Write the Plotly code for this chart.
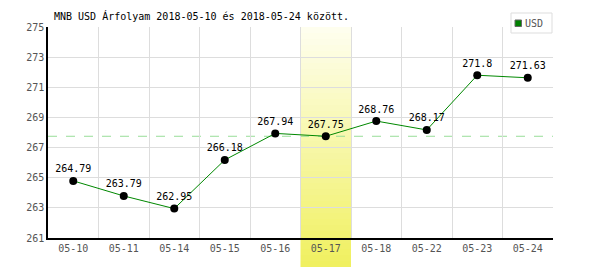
import plotly.graph_objects as go

dates = ["05-10", "05-11", "05-14", "05-15", "05-16", "05-17", "05-18", "05-22", "05-23", "05-24"]
usd = [264.79, 263.79, 262.95, 266.18, 267.94, 267.75, 268.76, 268.17, 271.8, 271.63]
labels = ["264.79", "263.79", "262.95", "266.18", "267.94", "267.75", "268.76", "268.17", "271.8", "271.63"]
series_name = "USD"
highlight_index = 5
reference_value = usd[highlight_index]
y_ticks = [261, 263, 265, 267, 269, 271, 273, 275]

FONT = "DejaVu Sans Mono"
L, R, T, B = 48, 553, 27, 238
PW, PH = R - L, B - T


def px(x):
    return (x - L) / PW


def py(y):
    return (B - y) / PH


fig = go.Figure()

fig.add_trace(go.Scatter(
    x=dates, y=usd, mode="lines+markers+text",
    text=labels, textposition="top center",
    textfont=dict(family=FONT, size=10, color="#000000"),
    line=dict(color="#008800", width=1),
    marker=dict(color="#000000", size=8),
    showlegend=False, cliponaxis=False,
))

# gradient highlight band
n = 40
top, bottom = 1.0, py(267)
c0 = (254, 254, 238)
c1 = (240, 240, 96)
for i in range(n):
    t = i / (n - 1)
    col = tuple(round(c0[k] + (c1[k] - c0[k]) * t) for k in range(3))
    y1 = top - (top - bottom) * i / n
    y0 = top - (top - bottom) * (i + 1) / n
    fig.add_shape(type="rect", xref="x", yref="paper",
                  x0=highlight_index - 0.5, x1=highlight_index + 0.5,
                  y0=y0, y1=y1, fillcolor="rgb(%d,%d,%d)" % col,
                  line=dict(width=0), layer="below")

fig.add_shape(type="line", xref="paper", yref="y", x0=0, x1=1,
              y0=reference_value, y1=reference_value,
              line=dict(color="#99dd99", width=1, dash="dash"), layer="below")

# legend box
fig.add_shape(type="rect", xref="paper", yref="paper",
              x0=px(511), x1=px(552), y0=py(33), y1=py(13),
              fillcolor="#ffffff", line=dict(color="#dddddd", width=1))
fig.add_shape(type="rect", xref="paper", yref="paper",
              x0=px(515), x1=px(521.5), y0=py(26.5), y1=py(20),
              fillcolor="#008000", line=dict(color="#666666", width=1))
fig.add_annotation(text=series_name, xref="paper", yref="paper",
                   x=px(523), y=py(23.5), xanchor="left", yanchor="middle",
                   showarrow=False,
                   font=dict(family=FONT, size=10, color="#555555"))

fig.update_layout(
    width=600, height=270,
    margin=dict(l=L, r=600 - R, t=T, b=270 - B),
    paper_bgcolor="#ffffff", plot_bgcolor="#ffffff",
    showlegend=False,
    title=dict(text="MNB USD Árfolyam 2018-05-10 és 2018-05-24 között.",
               x=54/600, xanchor="left", y=1-16/270, yanchor="middle",
               font=dict(family=FONT, size=10, color="#000000")),
    xaxis=dict(type="category", range=[-0.5, len(dates) - 0.5],
               tickson="boundaries", showgrid=True,
               gridcolor="#dddddd", gridwidth=1,
               showline=True, linecolor="#000000", linewidth=1.5,
               ticks="", tickfont=dict(family=FONT, size=10, color="#555555")),
    yaxis=dict(range=[261, 275], tickvals=y_ticks, showgrid=True,
               gridcolor="#dddddd", gridwidth=1,
               showline=True, linecolor="#000000", linewidth=1.5,
               ticks="", tickfont=dict(family=FONT, size=10, color="#555555"),
               zeroline=False),
)

fig.write_html("out.html")
